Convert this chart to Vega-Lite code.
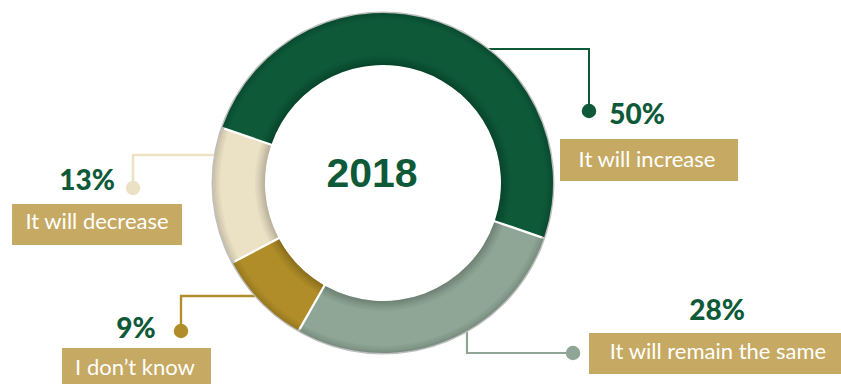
{
  "$schema": "https://vega.github.io/schema/vega-lite/v6.json",
  "width": 841,
  "height": 384,
  "autosize": {"type": "none"},
  "padding": 0,
  "background": "white",
  "config": {"view": {"stroke": null}},
  "datasets": {
    "answers": [
      {"answer": "It will increase", "share": 0.50, "rank": 1},
      {"answer": "It will remain the same", "share": 0.28, "rank": 2},
      {"answer": "I don’t know", "share": 0.09, "rank": 3},
      {"answer": "It will decrease", "share": 0.13, "rank": 4}
    ],
    "callouts": [
      {"answer": "It will increase", "bx1": 177, "bx2": 355, "by1": 44, "by2": 2, "tx": 264, "ty": 23, "px": 254, "py": 67},
      {"answer": "It will remain the same", "bx1": 206, "bx2": 458, "by1": -150, "by2": -191, "tx": 335, "ty": -169, "px": 334, "py": -129},
      {"answer": "I don’t know", "bx1": -321, "bx2": -172, "by1": -165, "by2": -201, "tx": -248, "ty": -185, "px": -247, "py": -147},
      {"answer": "It will decrease", "bx1": -371, "bx2": -201, "by1": -21, "by2": -62, "tx": -286, "ty": -39, "px": -296, "py": 1}
    ],
    "leaders": [
      {"answer": "It will increase", "step": 1, "x": 102, "y": 134},
      {"answer": "It will increase", "step": 2, "x": 206, "y": 134},
      {"answer": "It will increase", "step": 3, "x": 206, "y": 72},
      {"answer": "It will remain the same", "step": 1, "x": 84, "y": -137},
      {"answer": "It will remain the same", "step": 2, "x": 84, "y": -170},
      {"answer": "It will remain the same", "step": 3, "x": 190, "y": -170},
      {"answer": "I don’t know", "step": 1, "x": -128, "y": -113},
      {"answer": "I don’t know", "step": 2, "x": -202, "y": -113},
      {"answer": "I don’t know", "step": 3, "x": -202, "y": -148},
      {"answer": "It will decrease", "step": 1, "x": -168, "y": 28},
      {"answer": "It will decrease", "step": 2, "x": -250, "y": 28},
      {"answer": "It will decrease", "step": 3, "x": -250, "y": -5}
    ]
  },
  "layer": [
    {
      "data": {"name": "leaders"},
      "mark": {"type": "line", "strokeCap": "butt", "strokeJoin": "miter"},
      "encoding": {
        "x": {"field": "x", "type": "quantitative", "scale": {"domain": [-383, 458], "nice": false, "zero": false}, "axis": null},
        "y": {"field": "y", "type": "quantitative", "scale": {"domain": [-201, 183], "nice": false, "zero": false}, "axis": null},
        "order": {"field": "step"},
        "color": {"field": "answer", "type": "nominal", "legend": null,
          "scale": {"domain": ["It will increase", "It will remain the same", "I don’t know", "It will decrease"],
                    "range": ["#0E5A38", "#8FA696", "#B08D28", "#EBE1C5"]}},
        "strokeWidth": {"field": "answer", "type": "nominal", "legend": null,
          "scale": {"domain": ["It will increase", "It will remain the same", "I don’t know", "It will decrease"],
                    "range": [2, 2.5, 2.5, 4]}}
      }
    },
    {
      "data": {"name": "leaders"},
      "transform": [{"filter": "datum.step == 3"}],
      "mark": {"type": "circle", "size": 210, "opacity": 1},
      "encoding": {
        "x": {"field": "x", "type": "quantitative"},
        "y": {"field": "y", "type": "quantitative"},
        "color": {"field": "answer", "type": "nominal", "legend": null}
      }
    },
    {
      "data": {"values": [{}]},
      "mark": {"type": "arc", "theta": 0, "theta2": 6.2832, "innerRadius": 168, "outerRadius": 171.5, "color": "#BEBEBE"},
      "encoding": {"x": {"datum": 0, "type": "quantitative"}, "y": {"datum": 0, "type": "quantitative"}}
    },
    {
      "data": {"name": "answers"},
      "mark": {"type": "arc", "innerRadius": 118, "outerRadius": 170, "padAngle": 0.011},
      "encoding": {
        "x": {"datum": 0, "type": "quantitative"},
        "y": {"datum": 0, "type": "quantitative"},
        "theta": {"field": "share", "type": "quantitative", "stack": true, "scale": {"range": [-1.2409, 5.0423]}},
        "order": {"field": "rank"},
        "color": {"field": "answer", "type": "nominal", "legend": null}
      }
    },
    {
      "data": {"name": "answers"},
      "mark": {"type": "arc", "innerRadius": 118, "outerRadius": 128, "padAngle": 0.0132, "color": "black", "opacity": 0.035},
      "encoding": {"x": {"datum": 0, "type": "quantitative"}, "y": {"datum": 0, "type": "quantitative"},
        "theta": {"field": "share", "type": "quantitative", "stack": true}, "order": {"field": "rank"}}
    },
    {
      "data": {"name": "answers"},
      "mark": {"type": "arc", "innerRadius": 118, "outerRadius": 126, "padAngle": 0.0133, "color": "black", "opacity": 0.035},
      "encoding": {"x": {"datum": 0, "type": "quantitative"}, "y": {"datum": 0, "type": "quantitative"},
        "theta": {"field": "share", "type": "quantitative", "stack": true}, "order": {"field": "rank"}}
    },
    {
      "data": {"name": "answers"},
      "mark": {"type": "arc", "innerRadius": 118, "outerRadius": 124, "padAngle": 0.0134, "color": "black", "opacity": 0.035},
      "encoding": {"x": {"datum": 0, "type": "quantitative"}, "y": {"datum": 0, "type": "quantitative"},
        "theta": {"field": "share", "type": "quantitative", "stack": true}, "order": {"field": "rank"}}
    },
    {
      "data": {"name": "answers"},
      "mark": {"type": "arc", "innerRadius": 118, "outerRadius": 122.5, "padAngle": 0.0135, "color": "black", "opacity": 0.035},
      "encoding": {"x": {"datum": 0, "type": "quantitative"}, "y": {"datum": 0, "type": "quantitative"},
        "theta": {"field": "share", "type": "quantitative", "stack": true}, "order": {"field": "rank"}}
    },
    {
      "data": {"name": "answers"},
      "mark": {"type": "arc", "innerRadius": 118, "outerRadius": 121, "padAngle": 0.0136, "color": "black", "opacity": 0.035},
      "encoding": {"x": {"datum": 0, "type": "quantitative"}, "y": {"datum": 0, "type": "quantitative"},
        "theta": {"field": "share", "type": "quantitative", "stack": true}, "order": {"field": "rank"}}
    },
    {
      "data": {"name": "answers"},
      "mark": {"type": "arc", "innerRadius": 118, "outerRadius": 119.5, "padAngle": 0.0137, "color": "black", "opacity": 0.035},
      "encoding": {"x": {"datum": 0, "type": "quantitative"}, "y": {"datum": 0, "type": "quantitative"},
        "theta": {"field": "share", "type": "quantitative", "stack": true}, "order": {"field": "rank"}}
    },
    {
      "data": {"name": "answers"},
      "mark": {"type": "arc", "innerRadius": 163, "outerRadius": 170, "padAngle": 0.0098, "color": "black", "opacity": 0.035},
      "encoding": {"x": {"datum": 0, "type": "quantitative"}, "y": {"datum": 0, "type": "quantitative"},
        "theta": {"field": "share", "type": "quantitative", "stack": true}, "order": {"field": "rank"}}
    },
    {
      "data": {"name": "answers"},
      "mark": {"type": "arc", "innerRadius": 165, "outerRadius": 170, "padAngle": 0.0097, "color": "black", "opacity": 0.035},
      "encoding": {"x": {"datum": 0, "type": "quantitative"}, "y": {"datum": 0, "type": "quantitative"},
        "theta": {"field": "share", "type": "quantitative", "stack": true}, "order": {"field": "rank"}}
    },
    {
      "data": {"name": "answers"},
      "mark": {"type": "arc", "innerRadius": 167, "outerRadius": 170, "padAngle": 0.0096, "color": "black", "opacity": 0.035},
      "encoding": {"x": {"datum": 0, "type": "quantitative"}, "y": {"datum": 0, "type": "quantitative"},
        "theta": {"field": "share", "type": "quantitative", "stack": true}, "order": {"field": "rank"}}
    },
    {
      "data": {"name": "answers"},
      "mark": {"type": "arc", "innerRadius": 168.5, "outerRadius": 170, "padAngle": 0.0096, "color": "black", "opacity": 0.035},
      "encoding": {"x": {"datum": 0, "type": "quantitative"}, "y": {"datum": 0, "type": "quantitative"},
        "theta": {"field": "share", "type": "quantitative", "stack": true}, "order": {"field": "rank"}}
    },
    {
      "data": {"values": [{}]},
      "mark": {"type": "text", "text": "2018", "font": "Liberation Sans", "fontWeight": "bold", "fontSize": 41, "color": "#0E5A38", "align": "center", "baseline": "middle"},
      "encoding": {"x": {"datum": -11, "type": "quantitative"}, "y": {"datum": 8, "type": "quantitative"}}
    },
    {
      "data": {"name": "callouts"},
      "mark": {"type": "rect", "color": "#C6A962"},
      "encoding": {
        "x": {"field": "bx1", "type": "quantitative"},
        "x2": {"field": "bx2"},
        "y": {"field": "by1", "type": "quantitative"},
        "y2": {"field": "by2"}
      }
    },
    {
      "data": {"name": "callouts"},
      "mark": {"type": "text", "font": "Lato", "fontSize": 22, "color": "white", "align": "center", "baseline": "middle"},
      "encoding": {
        "x": {"field": "tx", "type": "quantitative"},
        "y": {"field": "ty", "type": "quantitative"},
        "text": {"field": "answer", "type": "nominal"}
      }
    },
    {
      "data": {"name": "answers"},
      "transform": [{"lookup": "answer", "from": {"data": {"name": "callouts"}, "key": "answer", "fields": ["px", "py"]}}],
      "mark": {"type": "text", "font": "Lato", "fontWeight": 900, "fontSize": 28, "color": "#0E5A38", "align": "center", "baseline": "middle"},
      "encoding": {
        "x": {"field": "px", "type": "quantitative"},
        "y": {"field": "py", "type": "quantitative"},
        "text": {"field": "share", "type": "quantitative", "format": ".0%"}
      }
    }
  ]
}
